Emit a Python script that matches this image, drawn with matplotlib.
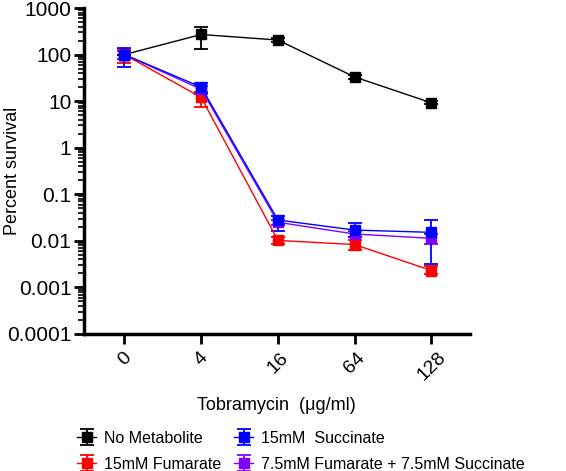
import numpy as np
import matplotlib.pyplot as plt
from matplotlib.ticker import LogLocator, FixedLocator

plt.rcParams['font.family'] = ['Liberation Sans', 'DejaVu Sans']

doses = ["0", "4", "16", "64", "128"]

labels = ["No Metabolite", "15mM Fumarate", "15mM  Succinate",
          "7.5mM Fumarate + 7.5mM Succinate"]
colors = ["#000000", "#ff0000", "#0000ff", "#8000ff"]

# mean percent survival and error bar low/high
no_met = [100, 270, 205, 33, 9.2]
no_met_lo = [100, 130, 190, 30, 8.5]
no_met_hi = [100, 390, 225, 36, 10]

fumarate = [100, 12, 0.0102, 0.0083, 0.0023]
fumarate_lo = [65, 7.5, 0.0085, 0.0065, 0.0019]
fumarate_hi = [135, 16, 0.0122, 0.0105, 0.0029]

succinate = [100, 20, 0.028, 0.017, 0.0152]
succinate_lo = [55, 14, 0.016, 0.012, 0.0031]
succinate_hi = [140, 25, 0.034, 0.024, 0.028]

mixed = [100, 18, 0.025, 0.014, 0.0113]
mixed_lo = [80, 15, 0.022, 0.012, 0.0085]
mixed_hi = [120, 21, 0.028, 0.016, 0.014]

series = [(no_met, no_met_lo, no_met_hi),
          (fumarate, fumarate_lo, fumarate_hi),
          (succinate, succinate_lo, succinate_hi),
          (mixed, mixed_lo, mixed_hi)]

fig = plt.figure(figsize=(5.66, 4.71), dpi=100)
ax = fig.add_axes([0.148, 0.291, 0.682, 0.692])

x = np.arange(len(doses))
order = [0, 1, 3, 2]  # blue drawn last, on top
handles = {}
for i in order:
    y, lo, hi = series[i]
    y = np.array(y)
    err = [y - np.array(lo), np.array(hi) - y]
    h = ax.errorbar(x, y, yerr=err, color=colors[i], marker='s', markersize=7,
                    linewidth=1, elinewidth=1.3, capsize=5, capthick=1.3,
                    label=labels[i])
    handles[i] = h

ax.set_yscale('log')
ax.set_ylim(1e-4, 1e3)
ax.set_xlim(-0.53, 4.5)
ax.set_xticks(x)
ax.set_xticklabels(doses, rotation=45, fontsize=14)
yt = [1e-4, 1e-3, 1e-2, 1e-1, 1, 10, 100, 1000]
ax.yaxis.set_major_locator(FixedLocator(yt))
ax.set_yticklabels(["0.0001", "0.001", "0.01", "0.1", "1", "10", "100", "1000"],
                   fontsize=15)
ax.yaxis.set_minor_locator(LogLocator(base=10, subs=np.arange(2, 10), numticks=20))
ax.tick_params(axis='y', which='major', length=7, width=2, pad=2)
ax.tick_params(axis='y', which='minor', length=4, width=1.2)
ax.tick_params(axis='x', length=7, width=2, pad=4)

for s in ['top', 'right']:
    ax.spines[s].set_visible(False)
for s in ['left', 'bottom']:
    ax.spines[s].set_linewidth(2.5)

ax.set_ylabel("Percent survival", fontsize=13)
ax.yaxis.set_label_coords(-0.163, 0.5)
ax.set_xlabel("Tobramycin  (\u03bcg/ml)", fontsize=13)
ax.xaxis.set_label_coords(0.5, -0.195)

leg = fig.legend([handles[i] for i in range(4)], labels, ncol=2,
                 loc='lower center', bbox_to_anchor=(0.532, -0.012), frameon=False,
                 borderaxespad=0.0, borderpad=0.3,
                 fontsize=11.5, handlelength=1.2, handletextpad=0.5,
                 columnspacing=0.8, labelspacing=0.7)

fig.savefig("out.png", dpi=100)
